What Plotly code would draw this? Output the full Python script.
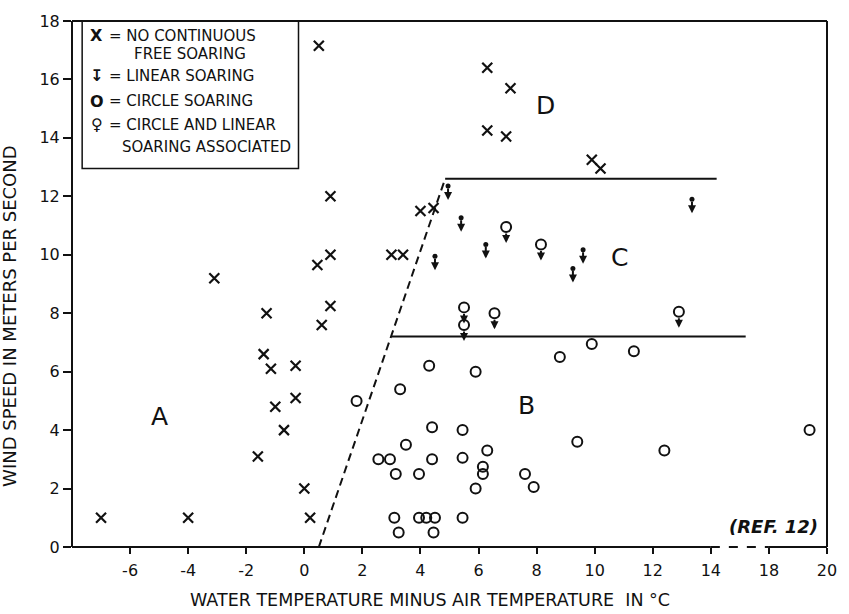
import plotly.graph_objects as go

# ---------------- data (x = water temp minus air temp, deg C; y = wind speed m/s) ----------------
# X : no continuous free soaring
nofree_x = [-7.0, -4.0, -1.6, -1.4, -1.15, -0.3, -0.3, -1.0, -0.7, 0.0, 0.2,
            0.9, 0.9, 0.45, -3.1, 0.9, -1.3, 0.6, 0.5,
            6.3, 7.1, 6.3, 6.95, 9.9, 10.2, 4.0, 4.45, 3.0, 3.4]
nofree_y = [1.0, 1.0, 3.1, 6.6, 6.1, 6.2, 5.1, 4.8, 4.0, 2.0, 1.0,
            12.0, 10.0, 9.65, 9.2, 8.25, 8.0, 7.6, 17.15,
            16.4, 15.7, 14.25, 14.05, 13.25, 12.95, 11.5, 11.6, 10.0, 10.0]

# arrow : linear soaring (position of the dot at the top of the arrow)
linear_x = [5.4, 6.25, 4.5, 9.6, 9.25, 13.35, 4.95]
linear_y = [11.27, 10.35, 9.95, 10.17, 9.53, 11.9, 12.35]

# O : circle soaring
circle_x = [1.8, 3.3, 4.3, 5.9, 8.8, 9.9, 11.35, 4.4, 5.45, 3.5, 2.55, 2.95, 4.4, 5.45,
            6.3, 6.15, 6.15, 3.15, 3.95, 9.4, 7.6, 7.9, 5.9, 3.1, 3.95, 4.2, 4.5, 5.45,
            3.25, 4.45, 12.4, 19.4]
circle_y = [5.0, 5.4, 6.2, 6.0, 6.5, 6.95, 6.7, 4.1, 4.0, 3.5, 3.0, 3.0, 3.0, 3.05,
            3.3, 2.75, 2.5, 2.5, 2.5, 3.6, 2.5, 2.05, 2.0, 1.0, 1.0, 1.0, 1.0, 1.0,
            0.5, 0.5, 3.3, 4.0]

# circle + arrow : circle and linear soaring associated (circle centre)
assoc_x = [6.95, 8.15, 5.5, 5.5, 6.55, 12.9]
assoc_y = [10.95, 10.35, 8.2, 7.6, 8.0, 8.05]

# region boundaries (axis units)
dash_bound_x = [0.5, 4.85]
dash_bound_y = [0.0, 12.6]
upper_bound_x = [4.85, 14.2]
upper_bound_y = [12.6, 12.6]
lower_bound_x = [3.0, 15.2]
lower_bound_y = [7.2, 7.2]

region_labels = ["A", "B", "C", "D"]
region_x = [-5.0, 7.65, 10.85, 8.3]
region_y = [4.45, 4.85, 9.9, 15.1]

x_tickvals = [-6, -4, -2, 0, 2, 4, 6, 8, 10, 12, 14, 16, 18]
x_ticktext = ["-6", "-4", "-2", "0", "2", "4", "6", "8", "10", "12", "14", "18", "20"]
y_tickvals = [0, 2, 4, 6, 8, 10, 12, 14, 16, 18]


def to_axis(t):
    """Broken x axis: values beyond 14 are shifted 2 units left (axis jumps 14 -> 18)."""
    return t if t <= 14 else t - 2


INK = "#111111"
FONT = "DejaVu Sans, sans-serif"

fig = go.Figure()

# boundaries
fig.add_trace(go.Scatter(x=dash_bound_x, y=dash_bound_y, mode="lines",
                         line=dict(color=INK, width=2, dash="8px,5px"), hoverinfo="skip"))
fig.add_trace(go.Scatter(x=upper_bound_x, y=upper_bound_y, mode="lines",
                         line=dict(color=INK, width=2), hoverinfo="skip"))
fig.add_trace(go.Scatter(x=lower_bound_x, y=lower_bound_y, mode="lines",
                         line=dict(color=INK, width=2), hoverinfo="skip"))

# X markers
fig.add_trace(go.Scatter(x=[to_axis(v) for v in nofree_x], y=nofree_y, mode="markers",
                         marker=dict(symbol="x-thin-open", size=10, color=INK,
                                     line=dict(color=INK, width=2.2))))
# circles
fig.add_trace(go.Scatter(x=[to_axis(v) for v in circle_x], y=circle_y, mode="markers",
                         marker=dict(symbol="circle-open", size=10, color=INK,
                                     line=dict(color=INK, width=2))))
# linear soaring: dot (arrow added below as annotation arrows)
fig.add_trace(go.Scatter(x=[to_axis(v) for v in linear_x], y=linear_y, mode="markers",
                         marker=dict(symbol="circle", size=5, color=INK)))
# circle + linear: circle (arrow added below)
fig.add_trace(go.Scatter(x=[to_axis(v) for v in assoc_x], y=assoc_y, mode="markers",
                         marker=dict(symbol="circle-open", size=10, color=INK,
                                     line=dict(color=INK, width=2))))

annotations = []
# arrows hanging under the linear-soaring dots
for lx, ly in zip(linear_x, linear_y):
    annotations.append(dict(x=to_axis(lx), y=ly, text="", showarrow=True, arrowhead=2,
                            arrowsize=0.8, arrowwidth=2, arrowcolor=INK, ax=0, ay=-13,
                            yshift=-14, standoff=0, startstandoff=0, font=dict(size=1)))
# arrows hanging under the associated circles
for lx, ly in zip(assoc_x, assoc_y):
    annotations.append(dict(x=to_axis(lx), y=ly, text="", showarrow=True, arrowhead=2,
                            arrowsize=0.8, arrowwidth=2, arrowcolor=INK, ax=0, ay=-11,
                            yshift=-16, standoff=0, startstandoff=0, font=dict(size=1)))

for lab, lx, ly in zip(region_labels, region_x, region_y):
    annotations.append(dict(x=lx, y=ly, text=lab, showarrow=False,
                            font=dict(family="DejaVu Sans", size=25, color=INK)))

annotations.append(dict(x=16.15, y=0.7, text="<b><i>(REF. 12)</i></b>", showarrow=False,
                        font=dict(family="DejaVu Sans", size=18, color=INK)))

# legend (drawn as a boxed key in the upper left)
leg_rows = [
    ("X", "= NO CONTINUOUS", 17.5),
    ("", "FREE SOARING", 16.88),
    ("↧", "= LINEAR SOARING", 16.12),
    ("O", "= CIRCLE SOARING", 15.25),
    ("♀", "= CIRCLE AND LINEAR", 14.45),
    ("", "SOARING ASSOCIATED", 13.68),
]
for sym, txt, ly in leg_rows:
    if sym:
        annotations.append(dict(x=-7.15, y=ly, text="<b>%s</b>" % sym, showarrow=False, xanchor="center",
                                font=dict(family="DejaVu Sans", size=16, color=INK)))
    tx = -6.8 if txt.startswith("=") else -6.35
    if txt == "FREE SOARING":
        tx = -5.95
    annotations.append(dict(x=tx, y=ly, text=txt, showarrow=False, xanchor="left",
                            font=dict(family=FONT, size=15, color=INK)))

annotations.append(dict(xref="paper", yref="paper", x=-0.083, y=0.44,
                        text="WIND SPEED IN METERS PER SECOND",
                        textangle=-90, showarrow=False, xanchor="center", yanchor="middle",
                        font=dict(family=FONT, size=18, color=INK)))
annotations.append(dict(xref="paper", yref="paper", x=0.474, y=-0.101,
                        text="WATER TEMPERATURE MINUS AIR TEMPERATURE &nbsp;IN °C",
                        showarrow=False, xanchor="center", yanchor="middle",
                        font=dict(family=FONT, size=17.5, color=INK)))

shapes = [
    # frame
    dict(type="line", xref="paper", yref="paper", x0=0, x1=0, y0=0, y1=1, line=dict(color=INK, width=2)),
    dict(type="line", xref="paper", yref="paper", x0=0, x1=1, y0=1, y1=1, line=dict(color=INK, width=2)),
    dict(type="line", xref="paper", yref="paper", x0=1, x1=1, y0=0, y1=1, line=dict(color=INK, width=2)),
    dict(type="line", xref="x", yref="paper", x0=-8, x1=14, y0=0, y1=0, line=dict(color=INK, width=2)),
    dict(type="line", xref="x", yref="paper", x0=14, x1=16, y0=0, y1=0, line=dict(color=INK, width=2, dash="dash")),
    dict(type="line", xref="x", yref="paper", x0=16, x1=18, y0=0, y1=0, line=dict(color=INK, width=2)),
    # legend box
    dict(type="rect", xref="x", yref="y", x0=-7.65, x1=-0.2, y0=12.95, y1=18,
         line=dict(color=INK, width=1.5), fillcolor="white", layer="below"),
]

fig.update_layout(
    width=849, height=614,
    margin=dict(l=72, r=13, t=13, b=67),
    paper_bgcolor="white", plot_bgcolor="white",
    showlegend=False,
    annotations=annotations,
    shapes=shapes,
    xaxis=dict(range=[-8, 18], tickvals=x_tickvals, ticktext=x_ticktext,
               showgrid=False, zeroline=False, showline=False,
               ticks="outside", ticklen=6, tickwidth=2, tickcolor=INK,
               ticklabelstandoff=3,
               tickfont=dict(family=FONT, size=16, color=INK)),
    yaxis=dict(range=[0, 18], tickvals=y_tickvals,
               showgrid=False, zeroline=False, showline=False,
               ticks="outside", ticklen=8, tickwidth=2, tickcolor=INK,
               tickfont=dict(family=FONT, size=16, color=INK)),
)

fig.write_html("out.html", config={"displayModeBar": False},
               post_script="document.body.style.margin='0px';document.body.style.overflow='hidden';")
